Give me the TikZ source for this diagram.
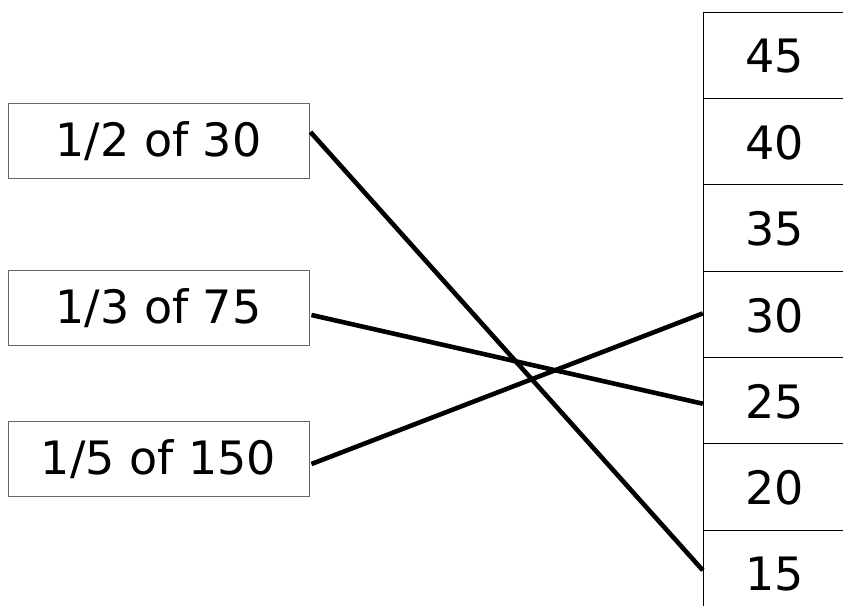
\documentclass[tikz,border=0pt]{standalone}
\usepackage{fontspec}
\setmainfont{DejaVu Sans}
\usetikzlibrary{calc}
\begin{document}
\begin{tikzpicture}[x=1pt,y=-1pt,
  qbox/.style={draw=black!60,line width=0.9pt,minimum width=301pt,minimum height=75pt,inner sep=0pt,font=\fontsize{46}{50}\selectfont},
  cell/.style={minimum width=140pt,minimum height=86.3pt,inner sep=0pt,font=\fontsize{46}{50}\selectfont},
  grid/.style={line width=1pt,black},
  link/.style={line width=4.6pt,black}]
\useasboundingbox (0,0) rectangle (843,606);

% question boxes
\node[qbox] (b1) at (158.5,141) {1/2 of 30};
\node[qbox] (b2) at (158.5,308) {1/3 of 75};
\node[qbox] (b3) at (158.5,459) {1/5 of 150};

% answer column
\foreach \v/\i in {45/0,40/1,35/2,30/3,25/4,20/5,15/6}{
  \node[cell] (c\v) at (775,{56.5+86.3*\i}) {\v};
}
\draw[grid] (703.3,12.3) -- (703.3,606);
\foreach \i in {0,...,6}{
  \draw[grid] (703.3,{12.3+86.3*\i}) -- (843,{12.3+86.3*\i});
}

% matching lines
\draw[link] ($(b1.east)+(1,-9)$) -- ($(c15.west)+(-2,-4)$);
\draw[link] ($(b2.east)+(2,7)$) -- ($(c25.west)+(-2,2)$);
\draw[link] ($(b3.east)+(2,5)$) -- ($(c30.west)+(-2,-2)$);
\end{tikzpicture}
\end{document}
